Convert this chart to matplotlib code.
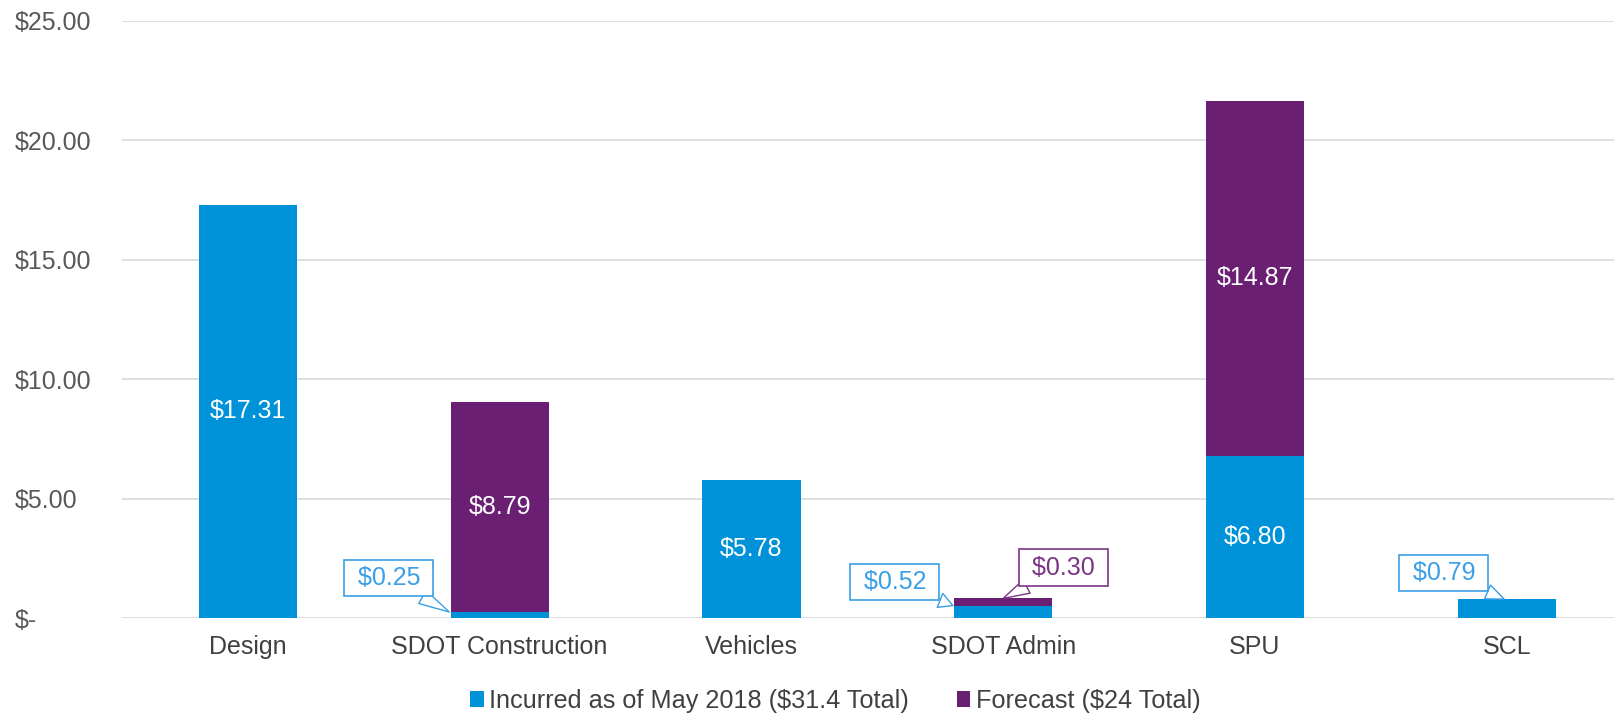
import matplotlib.pyplot as plt
import numpy as np

plt.rcParams['font.family'] = ['Liberation Sans', 'DejaVu Sans']

categories = ['Design', 'SDOT Construction', 'Vehicles', 'SDOT Admin', 'SPU', 'SCL']
incurred = [17.31, 0.25, 5.78, 0.52, 6.80, 0.79]
forecast = [0, 8.79, 0, 0.30, 14.87, 0]
yticks = [0, 5, 10, 15, 20, 25]
ytick_labels = ['$-', '$5.00', '$10.00', '$15.00', '$20.00', '$25.00']

blue = '#0092D8'
purple = '#6B1F73'
callout_blue = '#3A9FE6'
callout_purple = '#7A3585'

fig = plt.figure(figsize=(16.15, 7.15), dpi=100)
ax = fig.add_axes([122 / 1615, 1 - 618 / 715, 1 - 122 / 1615, (618 - 21) / 715])

x = np.arange(len(categories))
width = 0.39
b1 = ax.bar(x, incurred, width, color=blue, label='Incurred as of May 2018 ($31.4 Total)', zorder=3)
b2 = ax.bar(x, forecast, width, bottom=incurred, color=purple, label='Forecast ($24 Total)', zorder=3)

ax.set_xlim(-0.5, 5.43)
ax.set_ylim(0, 25)
ax.set_yticks(yticks)
ax.set_yticklabels(ytick_labels)
ax.set_xticks(x)
ax.set_xticklabels(categories)
for s in ax.spines.values():
    s.set_visible(False)
ax.yaxis.grid(True, color='#D9D9D9', linewidth=1.2, zorder=0)
ax.tick_params(axis='y', length=0, pad=77, labelsize=18, labelcolor='#595959')
ax.tick_params(axis='x', length=0, pad=12, labelsize=18, labelcolor='#404040')
for lbl in ax.get_yticklabels():
    lbl.set_horizontalalignment('left')

# labels inside big segments
for i in range(len(categories)):
    if incurred[i] > 2:
        ax.text(x[i], incurred[i] / 2, f'${incurred[i]:.2f}', ha='center', va='center',
                color='white', fontsize=18, zorder=4)
    if forecast[i] > 2:
        ax.text(x[i], incurred[i] + forecast[i] / 2, f'${forecast[i]:.2f}', ha='center', va='center',
                color='white', fontsize=18, zorder=4)

# callouts for small segments
callouts = [
    ('$0.25', (0.80, 0.25), (0.56, 1.67), callout_blue),
    ('$0.52', (2.80, 0.52), (2.57, 1.50), callout_blue),
    ('$0.30', (3.00, 0.82), (3.24, 2.11), callout_purple),
    ('$0.79', (4.99, 0.79), (4.75, 1.88), callout_blue),
]
for txt, tip, pos, col in callouts:
    ax.annotate(' ' + txt + ' ', xy=tip, xytext=pos, ha='center', va='center',
                fontsize=18, color=col, zorder=5,
                bbox=dict(boxstyle='square,pad=0.25', fc='white', ec=col, lw=1.2),
                arrowprops=dict(arrowstyle='wedge,tail_width=0.6,shrink_factor=0.5',
                                fc='white', ec=col, lw=1.0, shrinkA=0, shrinkB=0))

fig.legend(handles=[b1, b2], loc='center', bbox_to_anchor=(835 / 1615, 14 / 715), ncol=2,
           frameon=False, fontsize=18.2, handlelength=0.55, handleheight=0.55,
           handletextpad=0.2, columnspacing=1.9, labelcolor='#404040')

fig.savefig('out.png', dpi=100)
